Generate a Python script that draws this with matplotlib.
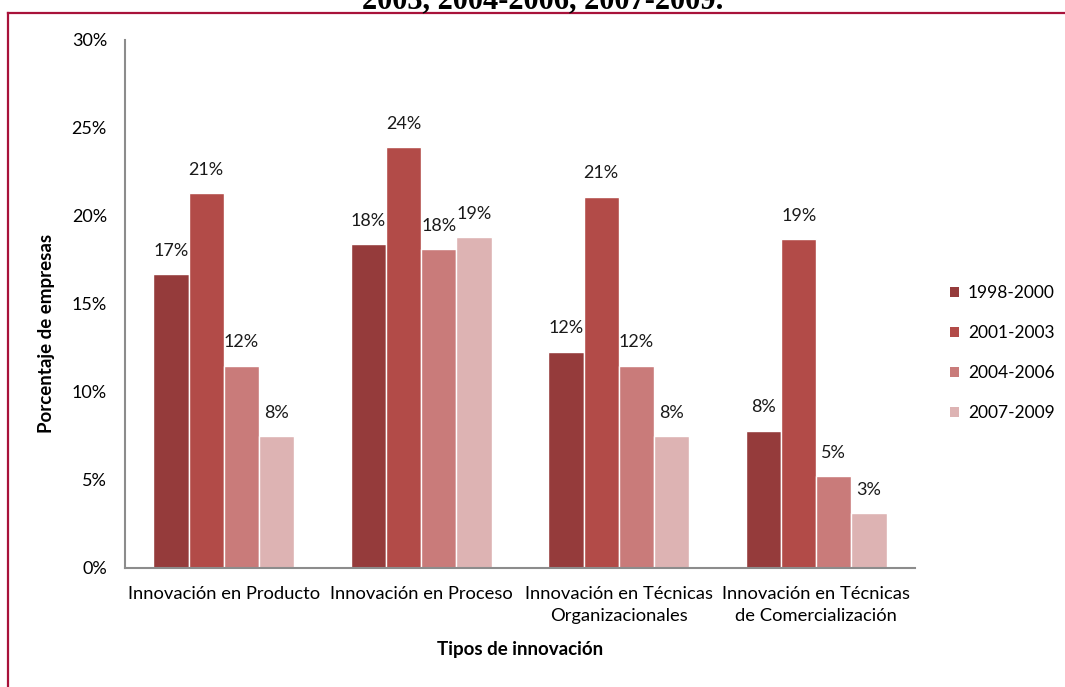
import matplotlib
matplotlib.use("Agg")
import matplotlib.pyplot as plt
import matplotlib.ticker as mticker
from matplotlib.lines import Line2D
from matplotlib.patches import Patch
import numpy as np

categories = [
    "Innovación en Producto",
    "Innovación en Proceso",
    "Innovación en Técnicas\nOrganizacionales",
    "Innovación en Técnicas\nde Comercialización",
]
periods = ["1998-2000", "2001-2003", "2004-2006", "2007-2009"]

# porcentaje de empresas por tipo de innovación y periodo
p1998 = [16.7, 18.4, 12.3, 7.8]
p2001 = [21.3, 23.9, 21.1, 18.7]
p2004 = [11.5, 18.1, 11.5, 5.2]
p2007 = [7.5, 18.8, 7.5, 3.1]
series = [p1998, p2001, p2004, p2007]

colors = ["#953B3B", "#B24B48", "#C97B7A", "#DDB3B3"]

plt.rcParams['font.family'] = ['Lato', 'DejaVu Sans']

fig = plt.figure(figsize=(10.65, 6.87), dpi=100)
ax = fig.add_axes([125 / 1065, 1 - 568 / 687, 790 / 1065, 528 / 687])

x = np.arange(len(categories))
width = 0.178
for i, vals in enumerate(series):
    pos = x + (i - 1.5) * width
    bars = ax.bar(pos, vals, width, color=colors[i], edgecolor="white",
                  linewidth=1.0, label=periods[i], zorder=2)
    for b, v in zip(bars, vals):
        ax.annotate("{:.0f}%".format(v), (b.get_x() + b.get_width() / 2, v),
                    xytext=(0, 11), textcoords="offset points",
                    ha="center", va="bottom", fontsize=13, color="#1a1a1a")

ax.set_xlim(-0.5, 3.5)
ax.set_ylim(0, 30)
ax.yaxis.set_major_locator(mticker.MultipleLocator(5))
ax.yaxis.set_major_formatter(mticker.FuncFormatter(lambda v, p: "{:.0f}%".format(v)))
ax.set_xticks(x)
ax.set_xticklabels(categories, fontsize=13.2, linespacing=1.45)
ax.tick_params(axis="y", length=0, pad=13, labelsize=13)
ax.tick_params(axis="x", length=0, pad=13)

for s in ["top", "right"]:
    ax.spines[s].set_visible(False)
for s in ["left", "bottom"]:
    ax.spines[s].set_color("#8c8c8c")
    ax.spines[s].set_linewidth(1.5)

ax.set_ylabel("Porcentaje de empresas", fontsize=13.5, fontweight="bold")
ax.yaxis.set_label_coords(-0.088, 0.445)
ax.set_xlabel("Tipos de innovación", fontsize=13.5, fontweight="bold", labelpad=12)

handles = [Patch(facecolor=c, edgecolor="none") for c in colors]
fig.legend(handles, periods, loc="center left", bbox_to_anchor=(934 / 1065, 1 - 353 / 687),
           frameon=False, fontsize=12.5, handlelength=0.55, handleheight=0.55,
           handletextpad=0.5, labelspacing=1.38)

# marco rojo del recuadro
fig.add_artist(Line2D([8 / 1065, 1.0], [1 - 12.5 / 687, 1 - 12.5 / 687],
                      color="#A8123A", linewidth=1.6, transform=fig.transFigure))
fig.add_artist(Line2D([8 / 1065, 8 / 1065], [0.0, 1 - 12.5 / 687],
                      color="#A8123A", linewidth=1.6, transform=fig.transFigure))

fig.text(543 / 1065, 1 - 8 / 687, "2003, 2004-2006, 2007-2009.", ha="center",
         va="baseline", fontsize=22, fontweight="bold", family="Liberation Serif")

fig.savefig("out.png", dpi=100)
